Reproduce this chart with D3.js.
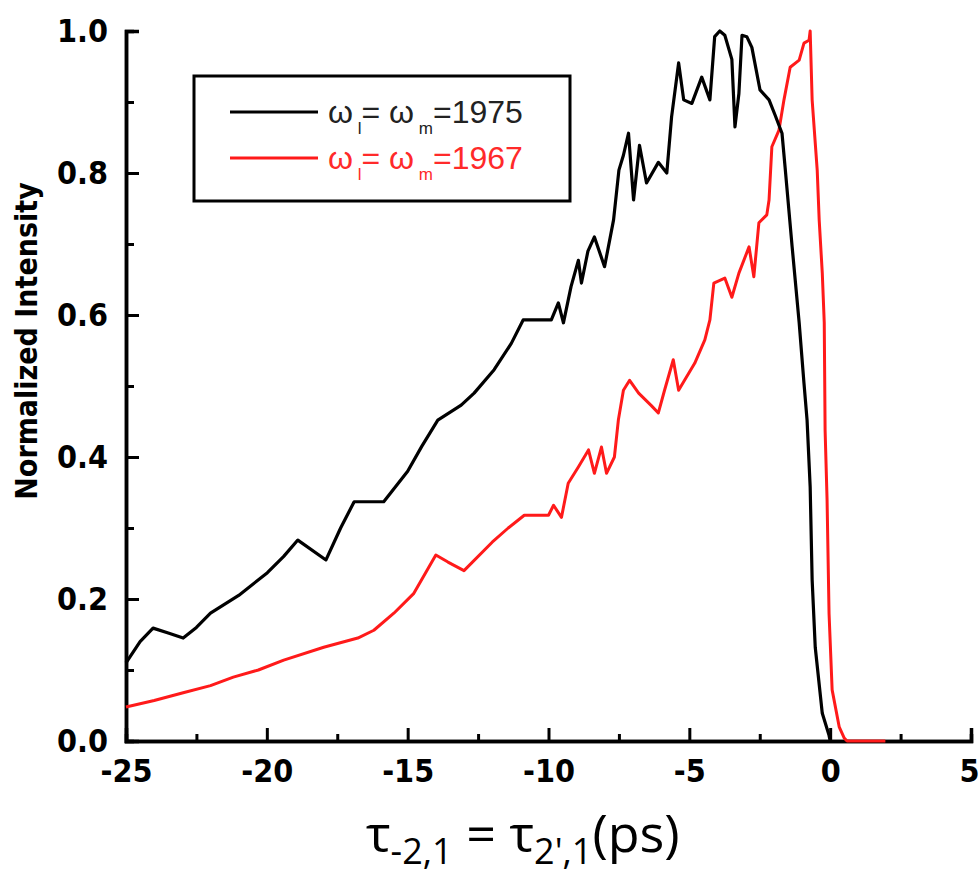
<!DOCTYPE html>
<html>
<head>
<meta charset="utf-8">
<script src="https://cdn.jsdelivr.net/npm/d3@7"></script>
<style>
  html, body { margin: 0; padding: 0; background: #fff; }
  svg { display: block; }
</style>
</head>
<body>
<div id="chart"></div>
<script>
// ---- Data ----
const xTicks = [-25, -20, -15, -10, -5, 0, 5];
const yTicks = [0.0, 0.2, 0.4, 0.6, 0.8, 1.0];
const seriesNames = ["1975", "1967"];

const blackX = [-25, -24.5, -24.04, -23.5, -22.97, -22.5, -22.0, -21.0, -19.98, -19.4, -18.9, -17.9, -17.38, -16.9, -15.85, -15.0, -14.5, -13.93, -13.1, -12.64, -11.93, -11.32, -10.9, -9.9, -9.65, -9.47, -9.2, -8.94, -8.83, -8.6, -8.37, -8.01, -7.69, -7.5, -7.34, -7.16, -6.98, -6.77, -6.52, -6.1, -5.8, -5.63, -5.38, -5.2, -4.91, -4.56, -4.27, -4.1, -3.92, -3.74, -3.49, -3.38, -3.24, -3.13, -2.96, -2.78, -2.49, -2.17, -1.96, -1.71, -1.6, -1.35, -1.1, -0.93, -0.82, -0.71, -0.64, -0.53, -0.28, -0.04, 0];
const blackY = [0.11, 0.14, 0.159, 0.152, 0.145, 0.16, 0.18, 0.205, 0.237, 0.26, 0.283, 0.255, 0.30, 0.337, 0.337, 0.38, 0.415, 0.452, 0.473, 0.49, 0.523, 0.56, 0.593, 0.593, 0.617, 0.589, 0.64, 0.677, 0.645, 0.69, 0.71, 0.668, 0.734, 0.804, 0.825, 0.856, 0.762, 0.839, 0.786, 0.815, 0.80, 0.879, 0.955, 0.903, 0.898, 0.935, 0.903, 0.992, 1.0, 0.994, 0.96, 0.865, 0.912, 0.994, 0.992, 0.977, 0.917, 0.903, 0.882, 0.856, 0.808, 0.696, 0.589, 0.504, 0.452, 0.358, 0.227, 0.132, 0.039, 0.008, 0];

const redX = [-25, -24, -22.97, -22, -21.19, -20.3, -19.4, -17.98, -16.77, -16.2, -15.49, -14.78, -14.0, -13.57, -13.0, -12.0, -11.43, -10.86, -10.0, -9.82, -9.54, -9.3, -8.94, -8.58, -8.37, -8.12, -7.94, -7.66, -7.52, -7.34, -7.12, -6.8, -6.34, -6.1, -5.88, -5.57, -5.38, -5.17, -4.81, -4.45, -4.27, -4.13, -3.74, -3.49, -3.24, -2.88, -2.71, -2.53, -2.25, -2.17, -2.07, -1.82, -1.64, -1.42, -1.1, -0.93, -0.75, -0.71, -0.64, -0.46, -0.39, -0.28, -0.21, -0.18, -0.11, -0.04, 0.07, 0.32, 0.5, 0.6, 1.96];
const redY = [0.048, 0.057, 0.068, 0.078, 0.09, 0.10, 0.114, 0.132, 0.145, 0.156, 0.18, 0.208, 0.262, 0.252, 0.24, 0.28, 0.30, 0.318, 0.318, 0.332, 0.315, 0.363, 0.386, 0.41, 0.377, 0.414, 0.377, 0.40, 0.452, 0.494, 0.508, 0.49, 0.472, 0.462, 0.494, 0.537, 0.494, 0.508, 0.532, 0.565, 0.593, 0.645, 0.652, 0.625, 0.659, 0.696, 0.654, 0.73, 0.741, 0.762, 0.837, 0.86, 0.903, 0.949, 0.959, 0.983, 0.987, 1.0, 0.903, 0.804, 0.734, 0.659, 0.589, 0.438, 0.34, 0.18, 0.072, 0.02, 0.004, 0, 0];

// ---- Layout ----
const W = 979, H = 882;
const svg = d3.select("#chart").append("svg").attr("width", W).attr("height", H);

const x = d3.scaleLinear().domain([-25, 5]).range([126, 971]);
const y = d3.scaleLinear().domain([0, 1]).range([741, 31]);

const tickFont = "'DejaVu Sans Condensed', 'DejaVu Sans', sans-serif";

const xAxis = d3.axisBottom(x).tickValues(xTicks).tickSize(-13).tickPadding(18).tickFormat(d => String(d));
const xMinor = d3.axisBottom(x).tickValues(d3.range(-22.5, 5, 5)).tickSize(-7).tickFormat("");
const yAxis = d3.axisLeft(y).tickValues(yTicks).tickSize(-13).tickPadding(18).tickFormat(d => d.toFixed(1));
const yMinor = d3.axisLeft(y).tickValues(d3.range(0.1, 1, 0.2)).tickSize(-8).tickFormat("");

function styleAxis(g) {
  g.select(".domain").attr("stroke", "#000").attr("stroke-width", 3.5);
  g.selectAll(".tick line").attr("stroke", "#000").attr("stroke-width", 3);
  g.selectAll(".tick text")
    .attr("fill", "#000")
    .style("font-family", tickFont)
    .style("font-weight", "bold")
    .style("font-size", "32px");
}

svg.append("g").attr("transform", `translate(0,${y(0)})`).call(xMinor).call(styleAxis);
const gx = svg.append("g").attr("transform", `translate(0,${y(0)})`).call(xAxis).call(styleAxis);
gx.selectAll(".tick text").attr("dy", "0.71em");
gx.selectAll(".tick").filter(d => d === 5).select("text").attr("text-anchor", "end").attr("x", 8);
svg.append("g").attr("transform", `translate(${x(-25)},0)`).call(yMinor).call(styleAxis);
svg.append("g").attr("transform", `translate(${x(-25)},0)`).call(yAxis).call(styleAxis);

// Lines
const line = d3.line().x(d => x(d[0])).y(d => y(d[1]));
const blackData = blackX.map((v, i) => [v, blackY[i]]);
const redData = redX.map((v, i) => [v, redY[i]]);

svg.append("path").datum(redData).attr("d", line)
  .attr("fill", "none").attr("stroke", "#ff1a1a").attr("stroke-width", 3).attr("stroke-linejoin", "round");
svg.append("path").datum(blackData).attr("d", line)
  .attr("fill", "none").attr("stroke", "#000").attr("stroke-width", 3.2).attr("stroke-linejoin", "round");

// Legend
const leg = svg.append("g");
leg.append("rect").attr("x", 194).attr("y", 76).attr("width", 376).attr("height", 125)
  .attr("fill", "#fff").attr("stroke", "#000").attr("stroke-width", 3);
const legItems = [
  { name: seriesNames[0], color: "#000", textColor: "#222", y: 112 },
  { name: seriesNames[1], color: "#ff1a1a", textColor: "#ff2a2a", y: 158 }
];
legItems.forEach(it => {
  leg.append("line").attr("x1", 230).attr("x2", 318).attr("y1", it.y).attr("y2", it.y)
    .attr("stroke", it.color).attr("stroke-width", 3);
  const t = leg.append("text").attr("x", 328).attr("y", it.y + 11)
    .attr("fill", it.textColor)
    .style("font-family", "'Liberation Sans', Arial, sans-serif")
    .style("font-size", "32px");
  t.append("tspan").text("ω");
  t.append("tspan").attr("dy", 11).style("font-size", "17px").text(" l");
  t.append("tspan").attr("dy", -11).text("= ω");
  t.append("tspan").attr("dy", 11).style("font-size", "17px").text(" m");
  t.append("tspan").attr("dy", -11).text("=" + it.name);
});

// Y label
svg.append("text")
  .attr("transform", `translate(37,341) rotate(-90)`)
  .attr("text-anchor", "middle")
  .attr("fill", "#000")
  .style("font-family", tickFont)
  .style("font-weight", "bold")
  .style("font-size", "30px")
  .text("Normalized Intensity");

// X label
const xl = svg.append("text")
  .attr("x", 366).attr("y", 852)
  .attr("fill", "#000")
  .style("font-family", "'Open Sans', 'DejaVu Sans', sans-serif")
  .style("font-size", "52px");
xl.append("tspan").text("τ");
xl.append("tspan").attr("dy", 12).style("font-size", "36px").text("-2,1");
xl.append("tspan").attr("dy", -12).text(" = τ");
xl.append("tspan").attr("dy", 12).style("font-size", "36px").text("2',1");
xl.append("tspan").attr("dy", -12).text("(ps)");
</script>
</body>
</html>
